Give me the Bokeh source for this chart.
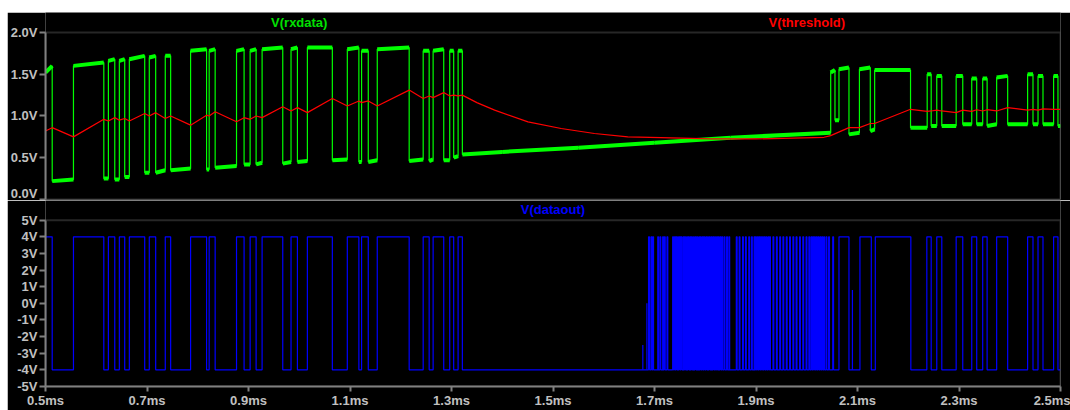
from bokeh.plotting import figure
from bokeh.layouts import column, row
from bokeh.models import Range1d, Label, PrintfTickFormatter, FixedTicker, Spacer, BoxAnnotation
from bokeh.embed import file_html
from bokeh.resources import INLINE

# ---------------- data (time in ms, volts) ----------------
# V(threshold)
thr_t = [0.500, 0.5132, 0.5551, 0.6149, 0.6239, 0.6365, 0.6455, 0.6561, 0.6652, 0.6955,
         0.7045, 0.7171, 0.7360, 0.7466, 0.7859, 0.8174, 0.8225, 0.8343, 0.8764, 0.8913,
         0.9032, 0.9150, 0.9268, 0.9675, 0.9838, 0.9964, 1.0160, 1.0652, 1.0947, 1.1175,
         1.1228, 1.1360, 1.1537, 1.2166, 1.2442, 1.2560, 1.2638, 1.2847, 1.2965, 1.3043,
         1.3130, 1.3214, 1.350, 1.385, 1.4507, 1.5161, 1.5816, 1.6473, 1.7128, 1.8111,
         1.900, 2.034, 2.0472, 2.0832, 2.1038, 2.1252, 2.1338, 2.2045, 2.2373, 2.2452,
         2.2562, 2.2661, 2.2944, 2.3074, 2.3251, 2.3349, 2.3467, 2.3554, 2.3742, 2.3959,
         2.4352, 2.4458, 2.4557, 2.4655, 2.4864, 2.500]
thr_v = [0.82, 0.86, 0.75, 0.96, 0.94, 0.98, 0.95, 0.97, 0.94, 1.03,
         1.00, 1.04, 0.97, 1.00, 0.89, 1.01, 1.00, 1.05, 0.93, 0.98,
         0.96, 1.00, 0.98, 1.11, 1.06, 1.10, 1.04, 1.21, 1.12, 1.18,
         1.16, 1.18, 1.12, 1.31, 1.21, 1.24, 1.22, 1.28, 1.24, 1.25,
         1.24, 1.25, 1.16, 1.07, 0.93, 0.85, 0.79, 0.75, 0.74, 0.725,
         0.725, 0.745, 0.765, 0.86, 0.86, 0.91, 0.91, 1.08, 1.055, 1.06,
         1.07, 1.06, 1.04, 1.07, 1.055, 1.075, 1.06, 1.075, 1.06, 1.10,
         1.07, 1.08, 1.07, 1.085, 1.08, 1.08]

# V(rxdata): plateau boundaries and level at start / end of each plateau
rx_edges = [0.500, 0.5132, 0.5551, 0.6149, 0.6239, 0.6365, 0.6455, 0.6561, 0.6652, 0.6955,
            0.7045, 0.7171, 0.7360, 0.7466, 0.7859, 0.8174, 0.8225, 0.8343, 0.8764, 0.8913,
            0.9032, 0.9150, 0.9268, 0.9675, 0.9838, 0.9964, 1.0160, 1.0652, 1.0947, 1.1175,
            1.1228, 1.1360, 1.1537, 1.2166, 1.2442, 1.2560, 1.2638, 1.2847, 1.2965, 1.3043,
            1.3130, 1.3214, 1.400, 1.550, 1.700, 1.850, 2.0472, 2.0556, 2.0635, 2.0832,
            2.1038, 2.1252, 2.1338, 2.2045, 2.2373, 2.2452, 2.2562, 2.2661, 2.2944, 2.3074,
            2.3251, 2.3349, 2.3467, 2.3554, 2.3742, 2.3959, 2.4352, 2.4458, 2.4557, 2.4655,
            2.4864, 2.4950, 2.500]
rx_v0 = [1.52, 0.22, 1.60, 0.25, 1.66, 0.24, 1.66, 0.27, 1.68, 0.32,
         1.70, 0.32, 1.72, 0.35, 1.78, 0.36, 1.78, 0.38, 1.78, 0.42,
         1.78, 0.42, 1.80, 0.43, 1.80, 0.45, 1.82, 0.47, 1.80, 0.45,
         1.78, 0.45, 1.80, 0.46, 1.78, 0.46, 1.78, 0.47, 1.78, 0.50,
         1.78, 0.54, 0.57, 0.62, 0.68, 0.74, 1.52, 0.95, 1.56, 0.78,
         1.56, 0.82, 1.55, 0.86, 1.50, 0.88, 1.48, 0.88, 1.48, 0.90,
         1.45, 0.90, 1.45, 0.88, 1.46, 0.90, 1.50, 0.90, 1.48, 0.90,
         1.48, 0.88]
rx_v1 = [1.60, 0.24, 1.64, 0.25, 1.68, 0.24, 1.68, 0.27, 1.72, 0.32,
         1.72, 0.35, 1.72, 0.37, 1.80, 0.36, 1.80, 0.40, 1.80, 0.42,
         1.80, 0.44, 1.82, 0.45, 1.82, 0.46, 1.82, 0.48, 1.82, 0.45,
         1.78, 0.47, 1.82, 0.48, 1.78, 0.48, 1.80, 0.47, 1.78, 0.52,
         1.78, 0.57, 0.62, 0.68, 0.74, 0.80, 1.55, 0.95, 1.58, 0.80,
         1.58, 0.84, 1.55, 0.86, 1.50, 0.88, 1.48, 0.88, 1.48, 0.90,
         1.45, 0.90, 1.45, 0.90, 1.48, 0.90, 1.50, 0.90, 1.48, 0.90,
         1.48, 0.88]

# V(dataout): intervals where the output is high
out_hi_start = [0.500, 0.5551, 0.6239, 0.6455, 0.6652, 0.7045, 0.7360, 0.7859, 0.8225, 0.8764,
                0.9032, 0.9268, 0.9838, 1.0160, 1.0947, 1.1228, 1.1537, 1.2442, 1.2638, 1.2965,
                1.3130,
                1.6883, 1.6932, 1.6965, 1.7064, 1.7108, 1.7161, 1.7193, 1.7246, 1.7358, 1.7392,
                1.7421, 1.7458, 1.7488, 1.7522, 1.7566, 1.7591, 1.7633, 1.7661, 1.7698, 1.7727,
                1.7768, 1.7799, 1.7836, 1.7874, 1.7903, 1.7942, 1.7973, 1.8012, 1.8048, 1.8079,
                1.8118, 1.8151, 1.8186, 1.8223, 1.8257, 1.8291, 1.8327, 1.8372, 1.8421, 1.8466,
                1.8612, 1.8668, 1.8735, 1.8792, 1.8858, 1.8911, 1.8962, 1.8991, 1.9027, 1.9059,
                1.9092, 1.9128, 1.9161, 1.9197, 1.9236, 1.9268, 1.9335, 1.9402, 1.9468, 1.9531,
                1.9597, 1.9662, 1.9728, 1.9791, 1.9858, 1.9923, 1.9987, 2.0042, 2.0085, 2.0118,
                2.0152, 2.0189, 2.0224, 2.0262, 2.0297, 2.0335, 2.0381, 2.0431, 2.0512,
                2.0635, 2.1048, 2.1351, 2.2366, 2.2562, 2.2944, 2.3251, 2.3467, 2.3742, 2.4352,
                2.4557, 2.4864]
out_hi_end = [0.5132, 0.6149, 0.6365, 0.6561, 0.6955, 0.7171, 0.7466, 0.8174, 0.8343, 0.8913,
              0.9150, 0.9675, 0.9964, 1.0652, 1.1175, 1.1360, 1.2166, 1.2560, 1.2847, 1.3043,
              1.3214,
              1.6902, 1.6948, 1.6981, 1.7079, 1.7124, 1.7176, 1.7211, 1.7262, 1.7374, 1.7408,
              1.7440, 1.7471, 1.7509, 1.7541, 1.7578, 1.7612, 1.7646, 1.7680, 1.7713, 1.7746,
              1.7781, 1.7820, 1.7851, 1.7888, 1.7921, 1.7959, 1.7990, 1.8031, 1.8061, 1.8098,
              1.8133, 1.8169, 1.8202, 1.8241, 1.8272, 1.8309, 1.8343, 1.8389, 1.8437, 1.8481,
              1.8628, 1.8684, 1.8751, 1.8808, 1.8874, 1.8927, 1.8977, 1.9008, 1.9043, 1.9076,
              1.9110, 1.9144, 1.9178, 1.9213, 1.9252, 1.9284, 1.9351, 1.9418, 1.9484, 1.9547,
              1.9613, 1.9678, 1.9744, 1.9807, 1.9874, 1.9939, 2.0003, 2.0058, 2.0101, 2.0135,
              2.0169, 2.0205, 2.0241, 2.0278, 2.0314, 2.0351, 2.0397, 2.0447, 2.0528,
              2.0832, 2.1272, 2.2051, 2.2452, 2.2661, 2.3074, 2.3349, 2.3554, 2.3959, 2.4458,
              2.4655, 2.4950]

# partial-height glitches on V(dataout): time, peak level
glitch_t = [1.677, 1.685, 2.0900]
glitch_top = [-2.5, 0.0, 0.8]

# axis ticks / panel ranges
x_ticks = [0.5, 0.7, 0.9, 1.1, 1.3, 1.5, 1.7, 1.9, 2.1, 2.3, 2.5]
top_ticks = [0.0, 0.5, 1.0, 1.5, 2.0]
bot_ticks = [-5, -4, -3, -2, -1, 0, 1, 2, 3, 4, 5]
top_lim = (0.0, 2.0)
bot_lim = (-5.0, 5.0)

# ---------------- styling ----------------
BG = "#000000"
FRAME = "#808080"
TXT = "#c0c0c0"
FONT = "Liberation Sans"
W = 1063

x_range = Range1d(0.5, 2.5)


def style(p, lim, ticks, fmt):
    p.background_fill_color = BG
    p.border_fill_color = BG
    p.outline_line_color = None
    p.xgrid.visible = False
    p.ygrid.visible = False
    p.add_layout(BoxAnnotation(bottom=lim[0], top=lim[1], fill_color=None,
                               line_color=FRAME, line_width=2))
    ax = p.yaxis[0]
    ax.bounds = lim
    ax.ticker = FixedTicker(ticks=ticks)
    ax.formatter = PrintfTickFormatter(format=fmt)
    ax.axis_line_color = FRAME
    ax.axis_line_width = 2
    ax.major_tick_line_color = FRAME
    ax.major_tick_line_width = 2
    ax.major_tick_out = 6
    ax.major_tick_in = 0
    ax.minor_tick_line_color = None
    ax.major_label_text_color = TXT
    ax.major_label_text_font = FONT
    ax.major_label_text_font_style = "bold"
    ax.major_label_text_font_size = "13px"
    ax.major_label_standoff = 2


# top panel: frame extends 20px above 2.0V to hold the trace names
top = figure(width=W, height=188, x_range=x_range, y_range=Range1d(0, 2.239),
             output_backend="svg", toolbar_location=None, x_axis_location=None,
             min_border_left=36, min_border_right=10, min_border_top=0, min_border_bottom=1)
style(top, top_lim, top_ticks, "%.1fV")

rx_x, rx_y = [], []
for i in range(len(rx_v0)):
    rx_x += [rx_edges[i], rx_edges[i + 1]]
    rx_y += [rx_v0[i], rx_v1[i]]
top.line(rx_x, rx_y, line_color="#00ff00", line_width=1.2)
top.segment(x0=rx_edges[:-1], y0=rx_v0, x1=rx_edges[1:], y1=rx_v1,
            line_color="#00ff00", line_width=4)
top.line(thr_t, thr_v, line_color="#ff0000", line_width=1.2)

top.add_layout(Label(x=1.0, y=2.119, text="V(rxdata)", text_color="#00e000",
                     text_font=FONT, text_font_style="bold", text_font_size="13px",
                     text_align="center", text_baseline="middle"))
top.add_layout(Label(x=2.0, y=2.119, text="V(threshold)", text_color="#ff0000",
                     text_font=FONT, text_font_style="bold", text_font_size="13px",
                     text_align="center", text_baseline="middle"))

# bottom panel: frame extends 20px above 5V to hold the trace name
bot = figure(width=W, height=210, x_range=x_range, y_range=Range1d(-5, 6.183),
             output_backend="svg", toolbar_location=None,
             min_border_left=36, min_border_right=10, min_border_top=0, min_border_bottom=21)
style(bot, bot_lim, bot_ticks, "%dV")
xa = bot.xaxis[0]
xa.ticker = FixedTicker(ticks=x_ticks)
xa.formatter = PrintfTickFormatter(format="%.1fms")
xa.axis_line_color = FRAME
xa.axis_line_width = 2
xa.major_tick_line_color = FRAME
xa.major_tick_line_width = 2
xa.major_tick_out = 5
xa.major_tick_in = 0
xa.minor_tick_line_color = None
xa.major_label_text_color = TXT
xa.major_label_text_font = FONT
xa.major_label_text_font_style = "bold"
xa.major_label_text_font_size = "13px"
xa.major_label_standoff = 1

ox, oy = [], []
for s, e in zip(out_hi_start, out_hi_end):
    ox += [s, s, e, e]
    oy += [-4, 4, 4, -4]
ox.append(2.5)
oy.append(-4)
bot.line(ox, oy, line_color="#0000ff", line_width=1.2)
bot.segment(x0=glitch_t, y0=[-4] * len(glitch_t), x1=glitch_t, y1=glitch_top,
            line_color="#0000ff", line_width=1.2)

bot.add_layout(Label(x=1.5, y=5.62, text="V(dataout)", text_color="#0000ff",
                     text_font=FONT, text_font_style="bold", text_font_size="13px",
                     text_align="center", text_baseline="middle"))

layout = row(Spacer(width=7, height=410),
             column(Spacer(width=W, height=12), top, bot))
open("out.html", "w").write(file_html(layout, INLINE))
